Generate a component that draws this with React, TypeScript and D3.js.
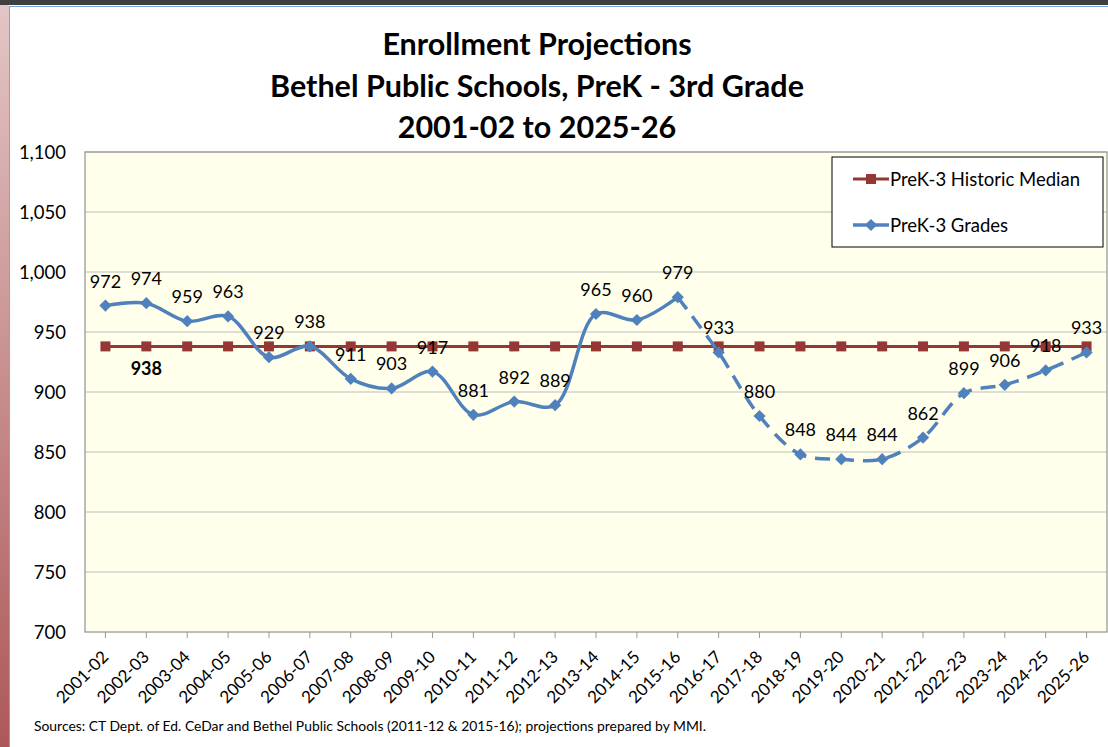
import React from 'react';
import * as d3 from 'd3';

// school years on the category axis
const years = [
  '2001-02', '2002-03', '2003-04', '2004-05', '2005-06', '2006-07', '2007-08',
  '2008-09', '2009-10', '2010-11', '2011-12', '2012-13', '2013-14', '2014-15',
  '2015-16', '2016-17', '2017-18', '2018-19', '2019-20', '2020-21', '2021-22',
  '2022-23', '2023-24', '2024-25', '2025-26'
];

// PreK-3 enrollment, actual through 2015-16 then projected
const grades = [
  972, 974, 959, 963, 929, 938, 911, 903, 917, 881, 892, 889, 965, 960, 979,
  933, 880, 848, 844, 844, 862, 899, 906, 918, 933
];

const median = years.map(() => 938);
const lastActual = 14; // index of 2015-16

const yTicks = [700, 750, 800, 850, 900, 950, 1000, 1050, 1100];

const W = 1108;
const H = 747;
const font = 'Lato, "Noto Sans", sans-serif';

const App = () => {
  const left = 85;
  const right = 1107;
  const top = 152;
  const bottom = 632;

  const x = d3.scalePoint<string>().domain(years).range([left, right]).padding(0.5);
  const y = d3.scaleLinear().domain([700, 1100]).range([bottom, top]);

  const smooth = d3
    .line<number[]>()
    .x(p => p[0])
    .y(p => p[1])
    .curve(d3.curveCatmullRom.alpha(0.5));

  const pts = grades.map((v, i) => [x(years[i]) as number, y(v)]);
  const medPts = median.map((v, i) => [x(years[i]) as number, y(v)]);
  const actualPath = smooth(pts.slice(0, lastActual + 1));
  const projPath = smooth(pts.slice(lastActual));

  const blue = '#4f81bd';
  const red = '#953735';
  const diamond = d3.symbol().type(d3.symbolDiamond2).size(95)() || '';
  const square = 'M-5,-5h10v10h-10z';

  return (
    <svg
      width={W}
      height={H}
      style={{ position: 'absolute', left: 0, top: 0, fontFamily: font }}
    >
      <defs>
        <linearGradient id="side" x1="0" y1="0" x2="0" y2="1">
          <stop offset="0" stopColor="#e3c6c6" />
          <stop offset="1" stopColor="#ad5858" />
        </linearGradient>
      </defs>
      <rect x={0} y={0} width={W} height={H} fill="white" />
      <rect x={0} y={0} width={9} height={H} fill="url(#side)" />
      <rect x={0} y={0} width={W} height={5} fill="#3f3f3f" />
      <line x1={9.5} y1={6} x2={9.5} y2={H} stroke="#7aa6dc" strokeWidth={1} />
      <line x1={9} y1={6.5} x2={W} y2={6.5} stroke="#7aa6dc" strokeWidth={1} />

      {/* title */}
      <g fontWeight="bold" fontSize={30.5} textAnchor="middle" fill="#000">
        <text x={537} y={55}>Enrollment Projections</text>
        <text x={537} y={97}>Bethel Public Schools, PreK - 3rd Grade</text>
        <text x={537} y={138}>2001-02 to 2025-26</text>
      </g>

      {/* plot area */}
      <rect x={left} y={top} width={right - left} height={bottom - top} fill="#ffffeb" />
      {yTicks.slice(1).map(t => (
        <line key={t} x1={left} x2={right} y1={y(t)} y2={y(t)} stroke="#bdbdbd" strokeWidth={1} />
      ))}
      <rect
        x={left}
        y={top}
        width={right - left}
        height={bottom - top}
        fill="none"
        stroke="#9a9a9a"
        strokeWidth={1.3}
      />

      {/* y axis */}
      {yTicks.map(t => (
        <text key={t} x={66} y={y(t) + 6.5} textAnchor="end" fontSize={18.5}>
          {d3.format(',')(t)}
        </text>
      ))}

      {/* x axis */}
      {years.map(c => {
        const cx = x(c) as number;
        return (
          <g key={c}>
            <line x1={cx} x2={cx} y1={bottom} y2={bottom + 6} stroke="#9a9a9a" />
            <text
              transform={`translate(${cx + 4},${bottom + 26}) rotate(-45)`}
              textAnchor="end"
              fontSize={17}
            >
              {c}
            </text>
          </g>
        );
      })}

      {/* historic median */}
      <path d={smooth(medPts) || ''} fill="none" stroke={red} strokeWidth={3} />
      {medPts.map((p, i) => (
        <path key={i} d={square} transform={`translate(${p[0]},${p[1]})`} fill={red} />
      ))}
      <text x={x(years[1])} y={y(median[1]) + 29} textAnchor="middle" fontSize={18} fontWeight="bold">
        {median[1]}
      </text>

      {/* grades */}
      <path d={actualPath || ''} fill="none" stroke={blue} strokeWidth={3.5} />
      <path
        d={projPath || ''}
        fill="none"
        stroke={blue}
        strokeWidth={3.5}
        strokeDasharray="15 9"
      />
      {pts.map((p, i) => (
        <path key={i} d={diamond} transform={`translate(${p[0]},${p[1]})`} fill={blue} />
      ))}
      {grades.map((v, i) => (
        <text key={i} x={pts[i][0]} y={pts[i][1] - 18} textAnchor="middle" fontSize={18}>
          {v}
        </text>
      ))}

      {/* legend */}
      <rect x={832} y={157} width={271} height={90} fill="white" stroke="#000" strokeWidth={1} />
      <line x1={853} x2={889} y1={179} y2={179} stroke={red} strokeWidth={3} />
      <path d={square} transform="translate(871,179)" fill={red} />
      <text x={890} y={185.5} fontSize={18.5}>PreK-3 Historic Median</text>
      <line x1={853} x2={889} y1={225} y2={225} stroke={blue} strokeWidth={3.5} />
      <path d={diamond} transform="translate(871,225)" fill={blue} />
      <text x={890} y={231.5} fontSize={18.5}>PreK-3 Grades</text>

      {/* source */}
      <text x={34} y={731} fontSize={13.9}>
        Sources: CT Dept. of Ed. CeDar and Bethel Public Schools (2011-12 &amp; 2015-16); projections prepared by MMI.
      </text>
    </svg>
  );
};

export default App;
